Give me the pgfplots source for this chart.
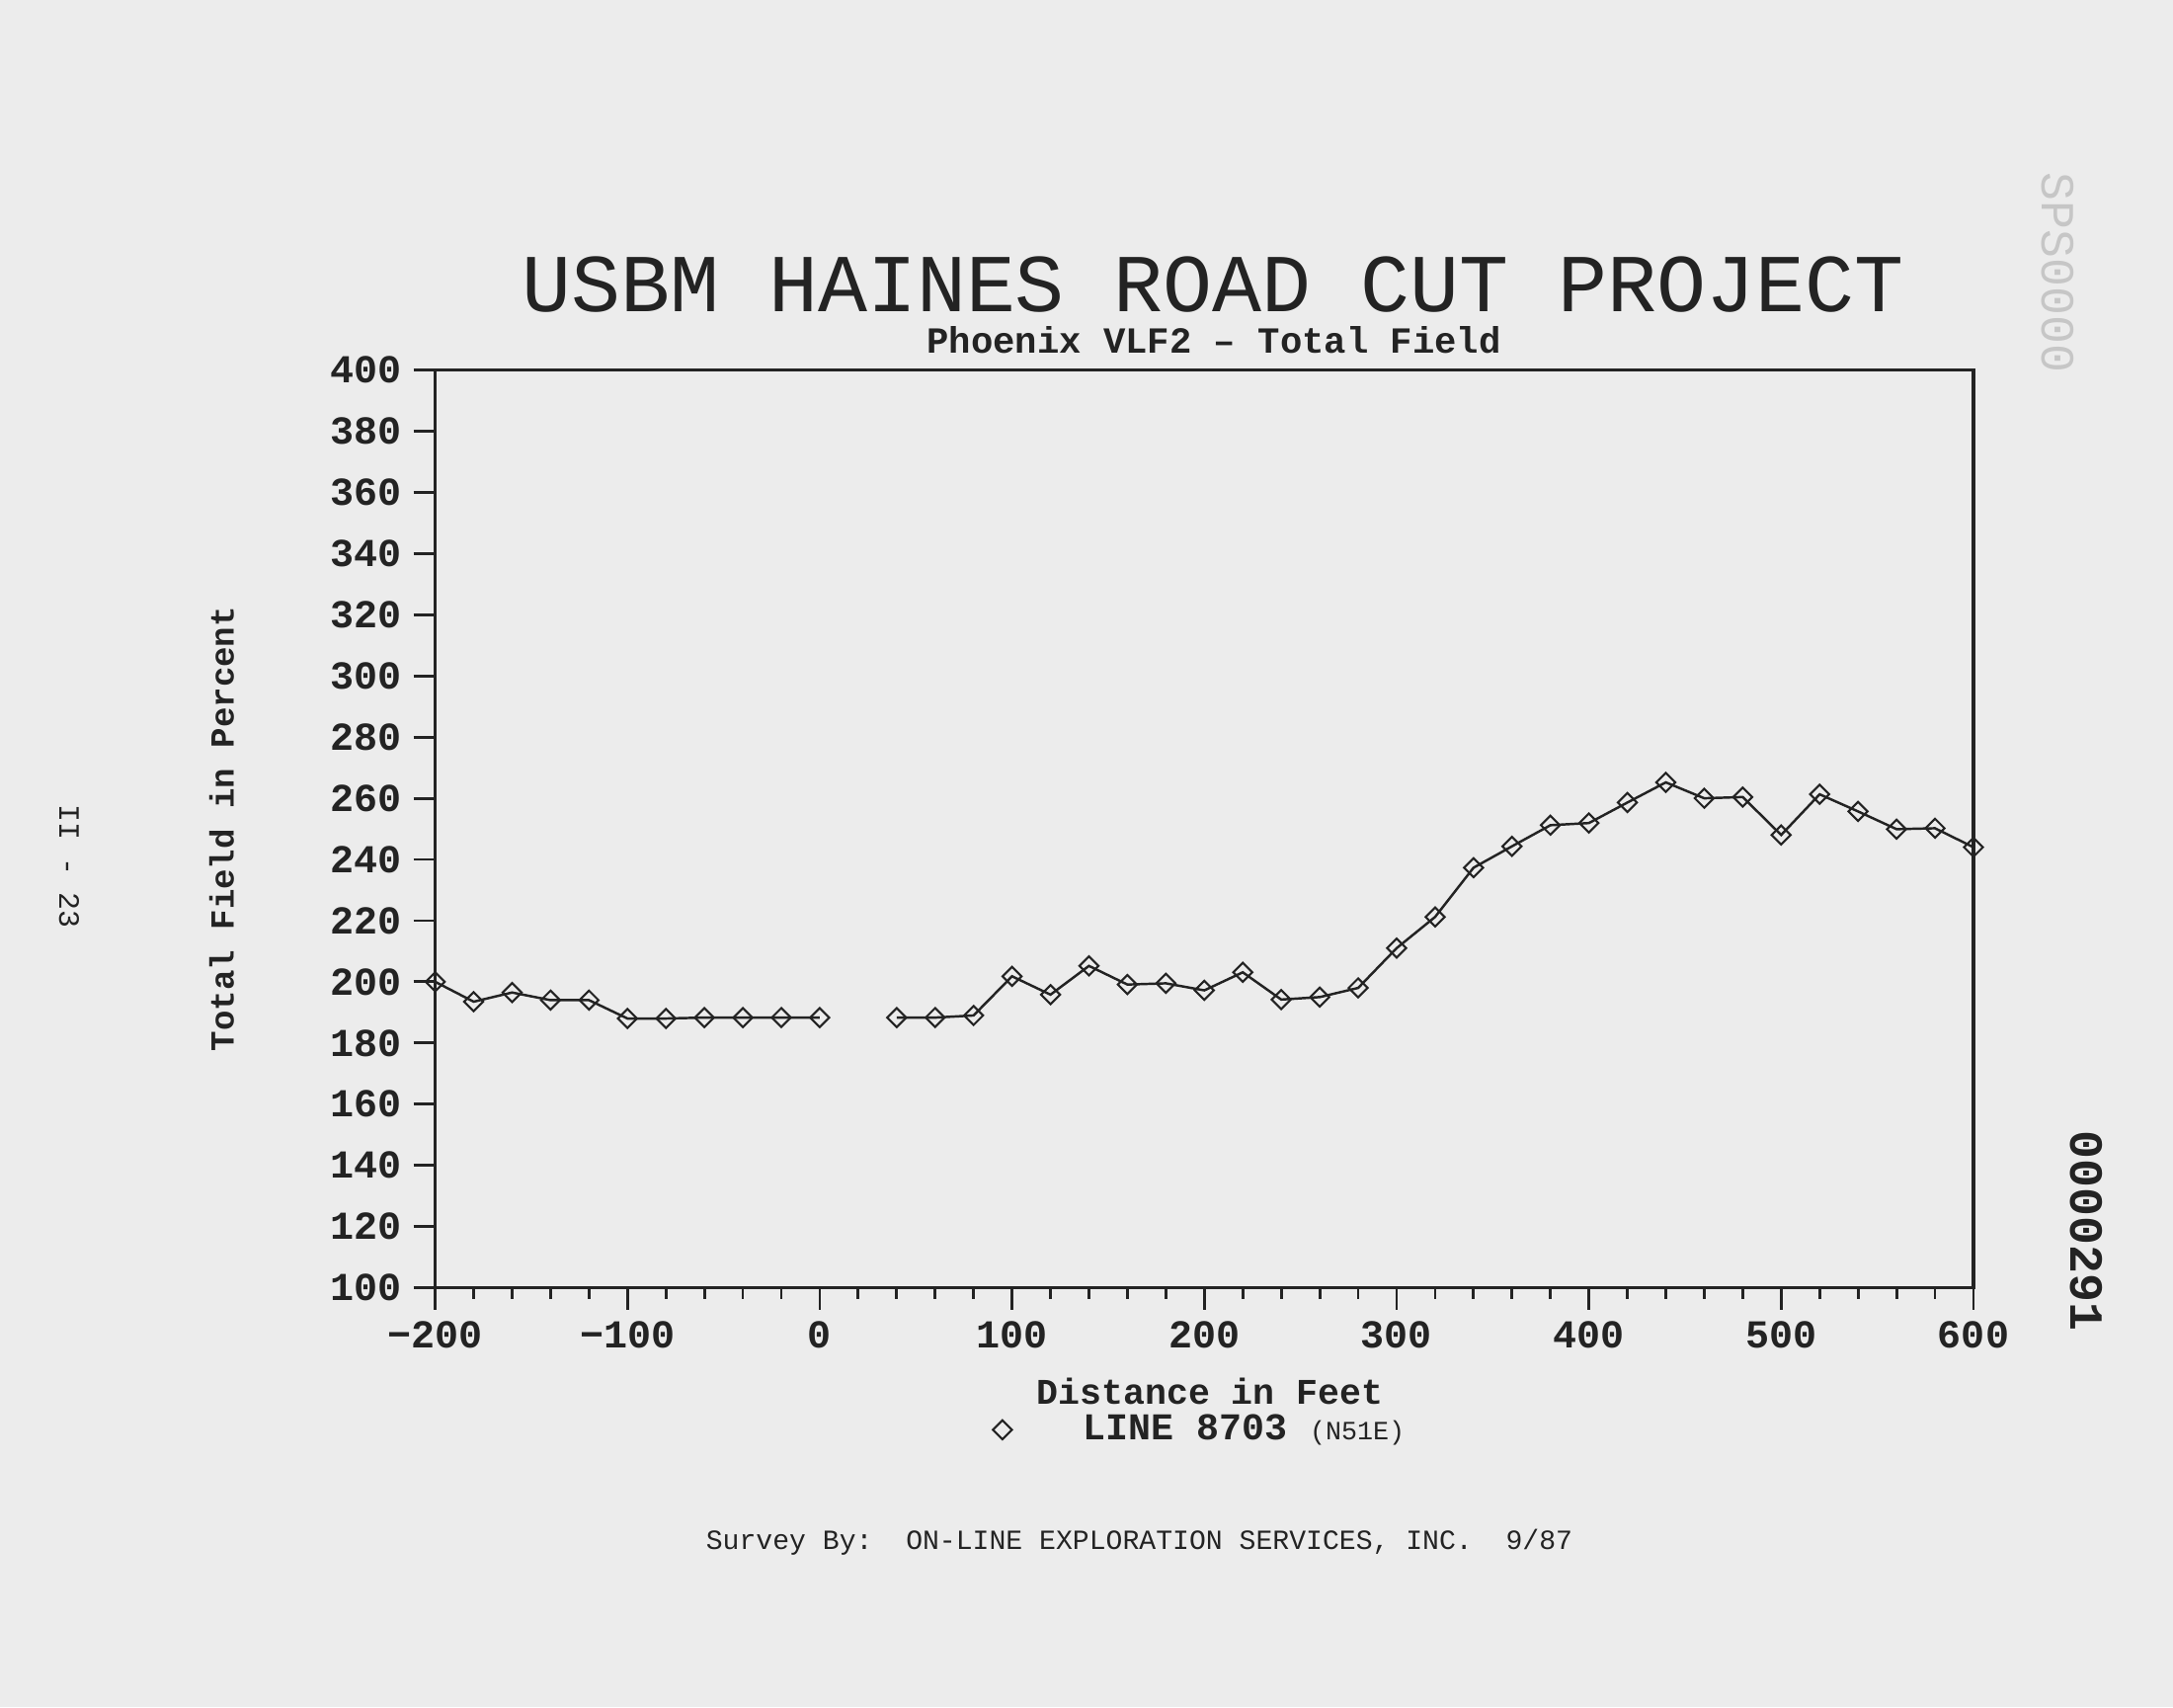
\documentclass[border=0pt]{standalone}
\usepackage{pgfplots}
\pgfplotsset{compat=1.18}
\usepackage{fontspec}
\setmainfont{Liberation Serif}
\setmonofont{Liberation Mono}
\definecolor{paper}{RGB}{236,236,236}
\definecolor{ink}{RGB}{35,35,35}
\newcommand{\fs}[1]{\fontsize{#1}{#1}\selectfont}

\pgfplotstableread{
x y
-200 200
-180 193.5
-160 196.5
-140 194
-120 194
-100 188
-80 188
-60 188.3
-40 188.3
-20 188.3
0 188.3
}\partA

\pgfplotstableread{
x y
40 188.3
60 188.3
80 189
100 201.8
120 195.8
140 205.2
160 199.1
180 199.5
200 197.2
220 203.1
240 194.2
260 195
280 198
300 211
320 221.2
340 237.3
360 244.3
380 251.2
400 251.9
420 258.6
440 265.2
460 260
480 260.4
500 248
520 261.3
540 255.7
560 249.9
580 250.2
600 244
}\partB

\pgfplotsset{myline/.style={ink, line width=0.7pt, mark=square,
    mark size=0.068cm, mark options={rotate=45, solid, fill=none, line width=0.6pt}}}

\begin{document}
\begin{tikzpicture}[x=1cm,y=1cm]
\path[use as bounding box] (0,0) rectangle (22,17.28);
\fill[paper] (0,0) rectangle (22,17.28);
\begin{axis}[
  at={(4.406cm,4.245cm)}, anchor=south west,
  scale only axis, width=15.574cm, height=9.289cm,
  xmin=-200, xmax=600, ymin=100, ymax=400,
  xtick={-200,-100,...,600},
  xticklabels={−200,−100,0,100,200,300,400,500,600},
  ytick={100,120,...,400},
  minor x tick num=4,
  tick pos=left,
  tick align=outside,
  major tick length=0.22cm, minor tick length=0.11cm,
  axis line style={ink, line width=0.9pt},
  tick style={ink, line width=0.8pt},
  /pgf/number format/assume math mode=true,
  ticklabel style={font=\ttfamily\bfseries\fs{11.4}, text=ink},
  xlabel={Distance in Feet},
  ylabel={Total Field in Percent},
  xlabel style={font=\ttfamily\bfseries\fs{10.4}, text=ink, inner sep=0pt,
    at={(axis description cs:0.5037,-0.1132)}, anchor=center},
  ylabel style={font=\ttfamily\bfseries\fs{9.7}, text=ink, inner sep=0pt,
    at={(axis description cs:-0.1388,0.5)}, anchor=center},
  clip=false,
  legend style={at={(axis description cs:0.3611,-0.1548)}, anchor=west,
    draw=none, fill=none, inner sep=0pt, nodes={inner sep=0pt},
    font=\ttfamily\bfseries\fs{10.9}, text=ink},
  legend cell align=left,
  legend image code/.code={\draw[#1, only marks] plot coordinates {(0cm,0cm)}; \path (-0.1cm,0cm) (0.80cm,0cm);},
]
\addplot[myline] table[x=x,y=y] {\partA};
\addlegendentry{LINE 8703 {\mdseries\fs{7.6}(N51E)}}
\addplot[myline, forget plot] table[x=x,y=y] {\partB};
\end{axis}
\node[ink, font=\ttfamily\fs{23.7}] at (12.28,14.40) {USBM HAINES ROAD CUT PROJECT};
\node[ink, font=\ttfamily\bfseries\fs{10.6}] at (12.29,13.84) {Phoenix VLF2 – Total Field};
\node[ink, font=\ttfamily\fs{8}] at (11.535,1.664) {Survey By:\ \ ON-LINE EXPLORATION SERVICES, INC.\ \ 9/87};
\node[ink, rotate=-90, font=\ttfamily\fs{8.5}] at (0.70,8.51) {II - 23};
\node[ink, rotate=-90, font=\ttfamily\bfseries\fs{13.7}] at (21.12,4.82) {0000291};
\node[gray!45, rotate=-90, font=\ttfamily\fs{13.7}] at (20.83,14.52) {SPS0000};
\end{tikzpicture}
\end{document}
